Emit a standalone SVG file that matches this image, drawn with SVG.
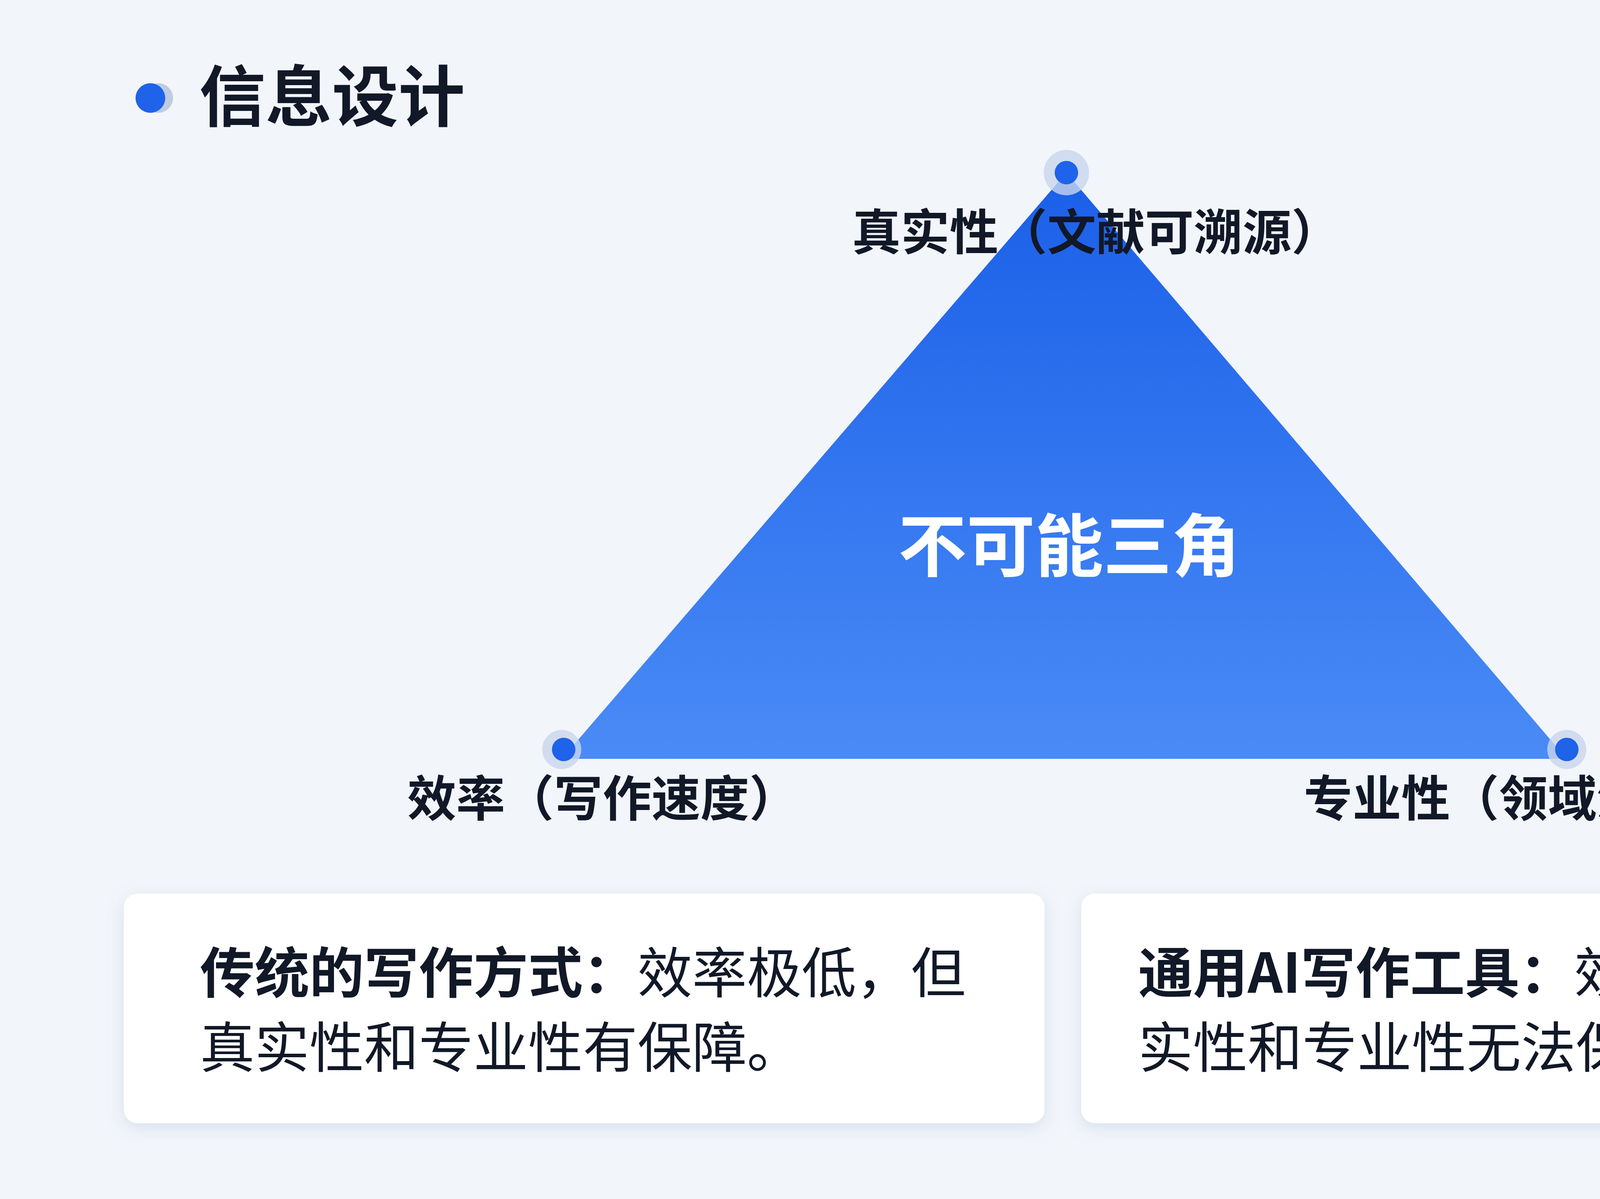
<svg xmlns="http://www.w3.org/2000/svg" width="5460" height="3070" viewBox="0 0 5460 3070">
<defs>
<linearGradient id="tri" x1="0" y1="0" x2="0" y2="1"><stop offset="0" stop-color="#1A5FE8"/><stop offset="1" stop-color="#4A8BF6"/></linearGradient>
<filter id="sh" x="-10%" y="-20%" width="120%" height="150%"><feDropShadow dx="0" dy="12" stdDeviation="20" flood-color="#8CA0C0" flood-opacity="0.25"/></filter>
<style>
.t{font-family:"Noto Sans CJK SC","Noto Sans",sans-serif;fill:#111827}
.lbl{font-size:125px;font-weight:700;text-anchor:middle}
.card{fill:#fff;filter:url(#sh)}
.ct{font-size:140px}
.halo{fill:#C9D6EE;opacity:0.8}
.dot{fill:#1E63E9}
</style>
</defs>
<rect width="5460" height="3070" fill="#F2F5FA"/>
<g id="title">
<circle cx="405" cy="251" r="38" fill="#BFCBE0"/>
<circle cx="385" cy="251" r="38" fill="#1E63E9"/>
<text class="t" x="510" y="310" font-size="170" font-weight="700">信息设计</text>
</g>
<g id="triangle">
<polygon points="2730,442 1438,1943 4011,1943" fill="url(#tri)"/>
<text class="t" x="2737" y="1462" font-size="175" font-weight="700" fill="#fff" style="fill:#fff" text-anchor="middle">不可能三角</text>
</g>
<g id="v-top"><circle class="halo" cx="2730" cy="442" r="58"/><circle class="dot" cx="2730" cy="442" r="30"/>
<text class="t lbl" x="2806" y="640">真实性（文献可溯源）</text></g>
<g id="v-left"><circle class="halo" cx="1438" cy="1919" r="50"/><circle class="dot" cx="1443" cy="1919" r="30"/>
<text class="t lbl" x="1543" y="2090">效率（写作速度）</text></g>
<g id="v-right"><circle class="halo" cx="4011" cy="1919" r="50"/><circle class="dot" cx="4011" cy="1919" r="30"/>
<text class="t lbl" x="3900" y="2090">专业性（领域深度）</text></g>
<g id="card-left"><rect class="card" x="317" y="2288" width="2357" height="588" rx="35"/>
<text class="t ct" x="512" y="2542"><tspan font-weight="700">传统的写作方式：</tspan>效率极低，但</text>
<text class="t ct" x="512" y="2733">真实性和专业性有保障。</text></g>
<g id="card-right"><rect class="card" x="2768" y="2288" width="2424" height="588" rx="35"/>
<text class="t ct" x="2914" y="2542"><tspan font-weight="700">通用AI写作工具：</tspan>效率极高，但真</text>
<text class="t ct" x="2914" y="2733">实性和专业性无法保证。</text></g>
<g id="connectors"/>
</svg>
